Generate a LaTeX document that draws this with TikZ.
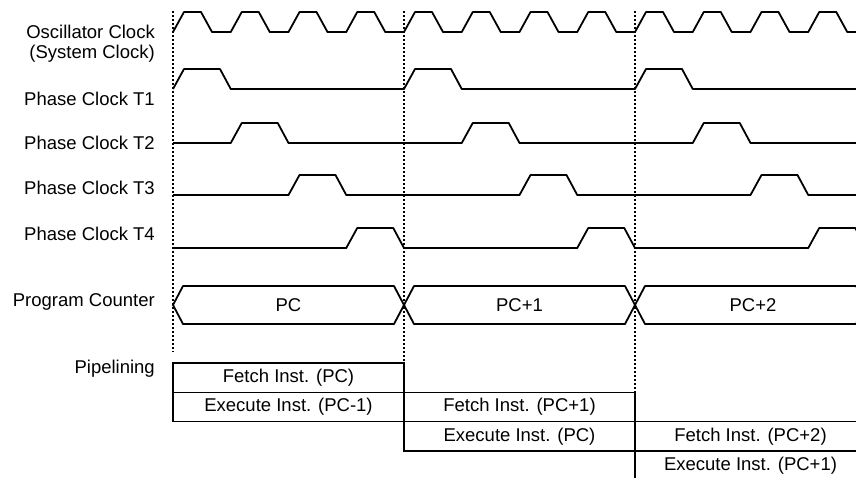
\documentclass[tikz,border=0pt]{standalone}
\usepackage{fontspec}
\setmainfont{Liberation Sans}
\usetikzlibrary{positioning}

\begin{document}
\begin{tikzpicture}[
    x=1pt, y=-1pt,
    sig/.style={inner sep=0pt, font=\fontsize{18.5}{20}\selectfont},
    wave/.style={line width=1.8pt, line join=round},
    guide/.style={line width=1.2pt, dash pattern=on 2pt off 2pt},
    stage/.style={draw, line width=1.5pt, minimum width=231pt, minimum height=29.3pt, inner sep=0pt, outer sep=0pt, font=\fontsize{18.5}{20}\selectfont},
    node distance=0pt
]
\useasboundingbox (0,0) rectangle (856,477);
\clip (0,0) rectangle (856,477);

% signal names
\node[sig, align=right, anchor=east] (osc) at (155,44) {Oscillator Clock\\(System Clock)};
\foreach \n/\y in {1/105.5, 2/149, 3/194, 4/240}
    \node[sig, anchor=base east] (lbl\n) at (155,\y) {Phase Clock T\n};
\node[sig, anchor=base east] (pclbl) at (155,306) {Program Counter};
\node[sig, anchor=base east] (pipelbl) at (155,373) {Pipelining};

% pipeline stages
\node[stage, anchor=north west] (fetchpc) at (173,363) {Fetch Inst. (PC)};
\node[stage, below=of fetchpc] (execpcm) {Execute Inst. (PC-1)};
\node[stage, right=of execpcm] (fetchpcp) {Fetch Inst. (PC+1)};
\node[stage, below=of fetchpcp] (execpc) {Execute Inst. (PC)};
\node[stage, right=of execpc] (fetchpcpp) {Fetch Inst. (PC+2)};
\node[stage, below=of fetchpcpp] (execpcp) {Execute Inst. (PC+1)};

% cycle boundaries
\coordinate (c0) at (173,11);
\coordinate (c1) at (404,11);
\coordinate (c2) at (635,11);
\draw[guide] (c0) -- (173,352);
\draw[guide] (c1) -- (fetchpc.north east);
\draw[guide] (c2) -- (fetchpcp.north east);

% oscillator clock
\draw[wave] (173,32) \foreach \i in {0,...,11} {
    -- ({173+57.75*\i+11},12) -- ({173+57.75*\i+28},12)
    -- ({173+57.75*\i+39},32) -- ({173+57.75*(\i+1)},32) };

% phase clocks T1..T4
\foreach \lo/\o in {89/0, 143/57.75, 195/115.5, 248/173.25} {
    \pgfmathsetmacro\hi{\lo-20}
    \draw[wave] (173,\lo) \foreach \p in {0,1,2} {
        -- ({173+231*\p+\o},\lo) -- ({173+231*\p+\o+11},\hi)
        -- ({173+231*\p+\o+47},\hi) -- ({173+231*\p+\o+57.75},\lo) } -- (866,\lo);
}

% program counter bus
\foreach \a/\b in {173/404, 404/635, 635/866}
    \draw[wave] (\a,305) -- ({\a+10},286) -- ({\b-10},286) -- (\b,305)
        -- ({\b-10},324) -- ({\a+10},324) -- cycle;
\node[sig] (pc0) at (288.5,305) {PC};
\node[sig] (pc1) at (519.5,305) {PC+1};
\node[sig] (pc2) at (753,305) {PC+2};
\end{tikzpicture}
\end{document}
